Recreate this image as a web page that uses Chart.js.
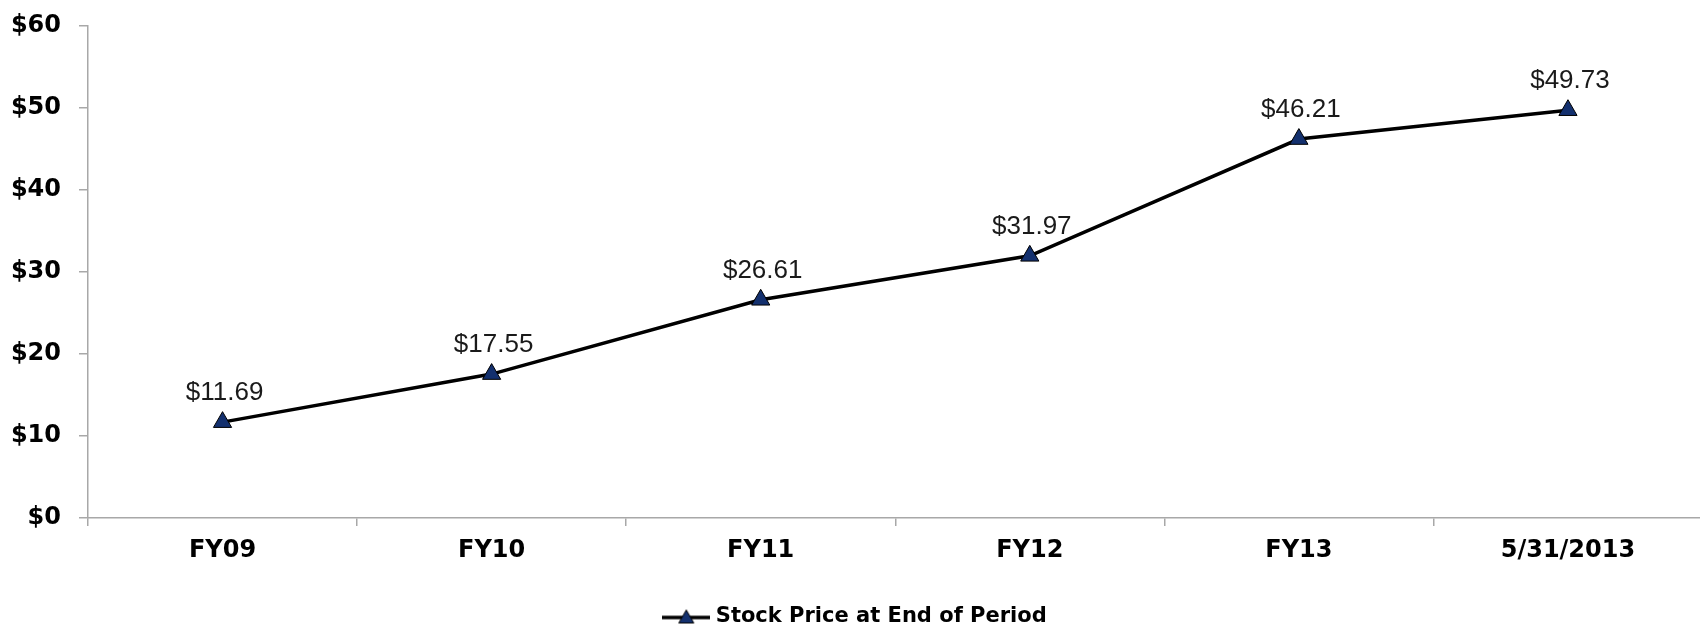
<!DOCTYPE html>
<html>
<head>
<meta charset="utf-8">
<script src="https://cdn.jsdelivr.net/npm/chart.js@4.4.1/dist/chart.umd.min.js"></script>
<style>
  html, body { margin: 0; padding: 0; background: #fff; overflow: hidden; }
  #wrap { position: relative; width: 1714px; height: 637px; }
</style>
</head>
<body>
<div id="wrap"><canvas id="c"></canvas></div>
<script>
const categories = ['FY09', 'FY10', 'FY11', 'FY12', 'FY13', '5/31/2013'];
const stockPrice = [11.69, 17.55, 26.61, 31.97, 46.21, 49.73];
const yTicks = [0, 10, 20, 30, 40, 50, 60];
const seriesName = 'Stock Price at End of Period';

const markerColor = '#13306e';
const axisColor = '#a8a8a8';

// legend symbol: line with triangle
const sym = document.createElement('canvas');
sym.width = 48; sym.height = 18;
(function () {
  const g = sym.getContext('2d');
  g.strokeStyle = '#000'; g.lineWidth = 3.5;
  g.beginPath(); g.moveTo(0, 10); g.lineTo(48, 10); g.stroke();
  g.fillStyle = markerColor; g.strokeStyle = '#000'; g.lineWidth = 1;
  g.beginPath(); g.moveTo(24, 2.5); g.lineTo(31.5, 15.5); g.lineTo(16.5, 15.5); g.closePath();
  g.fill(); g.stroke();
})();

const valueLabels = {
  id: 'valueLabels',
  afterDatasetsDraw(chart) {
    const ctx = chart.ctx;
    const meta = chart.getDatasetMeta(0);
    ctx.save();
    ctx.font = '26px "Liberation Sans", Arial, sans-serif';
    ctx.fillStyle = '#1a1a1a';
    ctx.textAlign = 'center';
    ctx.textBaseline = 'alphabetic';
    meta.data.forEach((pt, i) => {
      ctx.fillText('$' + stockPrice[i].toFixed(2), pt.x + 2, pt.y - 22);
    });
    ctx.restore();
  }
};

new Chart(document.getElementById('c'), {
  type: 'line',
  data: {
    labels: categories,
    datasets: [{
      label: seriesName,
      data: stockPrice,
      borderColor: '#000',
      borderWidth: 3.5,
      backgroundColor: markerColor,
      pointStyle: 'triangle',
      pointRadius: 10.5,
      pointBackgroundColor: markerColor,
      pointBorderColor: '#000',
      pointBorderWidth: 1,
      tension: 0,
      fill: false
    }]
  },
  options: {
    responsive: true,
    maintainAspectRatio: false,
    animation: false,
    layout: { padding: { top: 26, left: 0, right: 0, bottom: 0 } },
    plugins: {
      tooltip: { enabled: false },
      legend: {
        display: true,
        position: 'bottom',
        labels: {
          usePointStyle: true,
          pointStyle: sym,
          pointStyleWidth: 38,
          padding: 0,
          color: '#000',
          font: { family: '"DejaVu Sans", sans-serif', size: 21, weight: 'bold' }
        }
      }
    },
    scales: {
      x: {
        offset: true,
        afterFit(scale) { scale.height = 88; },
        grid: {
          offset: true,
          drawOnChartArea: false,
          drawTicks: true,
          tickLength: 8,
          color: axisColor,
          lineWidth: 1.5
        },
        border: { display: true, color: axisColor, width: 1.5 },
        ticks: {
          padding: 10,
          color: '#000',
          font: { family: '"DejaVu Sans", sans-serif', size: 24, weight: 'bold' }
        }
      },
      y: {
        min: 0,
        max: 60,
        afterFit(scale) { scale.width = 88; scale.paddingTop = 0; scale.paddingBottom = 0; },
        afterBuildTicks(scale) { scale.ticks = yTicks.map(v => ({ value: v })); },
        grid: {
          drawOnChartArea: false,
          drawTicks: true,
          tickLength: 9,
          color: axisColor,
          lineWidth: 1.5
        },
        border: { display: true, color: axisColor, width: 1.5 },
        ticks: {
          padding: 18,
          color: '#000',
          font: { family: '"DejaVu Sans", sans-serif', size: 24, weight: 'bold' },
          callback: (v) => '$' + v
        }
      }
    }
  },
  plugins: [valueLabels]
});
</script>
</body>
</html>
